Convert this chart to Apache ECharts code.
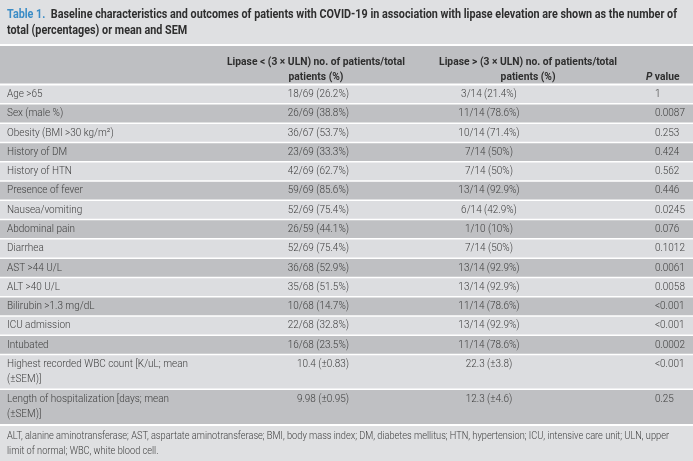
<!DOCTYPE html>
<html><head><meta charset="utf-8">
<script src="https://cdn.jsdelivr.net/npm/echarts@6/dist/echarts.min.js"></script>
<style>html,body{margin:0;padding:0;background:#dfe0e2}#c{width:693px;height:461px}</style>
</head><body><div id="c"></div>
<script>
// ---------- DATA ----------
const titlePrefix = 'Table 1.';
const titleLines = [
  'Baseline characteristics and outcomes of patients with COVID-19 in association with lipase elevation are shown as the number of',
  'total (percentages) or mean and SEM'
];
const headerCol2 = 'Lipase < (3 × ULN) no. of patients/total\npatients (%)';
const headerCol3 = 'Lipase > (3 × ULN) no. of patients/total\npatients (%)';
const headerCol4 = 'P value';
const characteristics = [
  'Age >65', 'Sex (male %)', 'Obesity (BMI >30 kg/m²)', 'History of DM', 'History of HTN',
  'Presence of fever', 'Nausea/vomiting', 'Abdominal pain', 'Diarrhea', 'AST >44 U/L',
  'ALT >40 U/L', 'Bilirubin >1.3 mg/dL', 'ICU admission', 'Intubated',
  'Highest recorded WBC count [K/uL; mean\n(±SEM)]',
  'Length of hospitalization [days; mean\n(±SEM)]'
];
const lipaseLow = [
  '18/69 (26.2%)', '26/69 (38.8%)', '36/67 (53.7%)', '23/69 (33.3%)', '42/69 (62.7%)',
  '59/69 (85.6%)', '52/69 (75.4%)', '26/59 (44.1%)', '52/69 (75.4%)', '36/68 (52.9%)',
  '35/68 (51.5%)', '10/68 (14.7%)', '22/68 (32.8%)', '16/68 (23.5%)',
  '10.4 (±0.83)', '9.98 (±0.95)'
];
const lipaseHigh = [
  '3/14 (21.4%)', '11/14 (78.6%)', '10/14 (71.4%)', '7/14 (50%)', '7/14 (50%)',
  '13/14 (92.9%)', '6/14 (42.9%)', '1/10 (10%)', '7/14 (50%)', '13/14 (92.9%)',
  '13/14 (92.9%)', '11/14 (78.6%)', '13/14 (92.9%)', '11/14 (78.6%)',
  '22.3 (±3.8)', '12.3 (±4.6)'
];
const pValues = [
  '1', '0.0087', '0.253', '0.424', '0.562', '0.446', '0.0245', '0.076', '0.1012',
  '0.0061', '0.0058', '<0.001', '<0.001', '0.0002', '<0.001', '0.25'
];
const footnote = [
  'ALT, alanine aminotransferase; AST, aspartate aminotransferase; BMI, body mass index; DM, diabetes mellitus; HTN, hypertension; ICU, intensive care unit; ULN, upper',
  'limit of normal; WBC, white blood cell.'
];

// ---------- STYLE ----------
const FONT = 'Roboto, "Liberation Sans", sans-serif';
const LIGHT_BG = '#dcdde0', DARK_BG = '#bfc0c3', HEADER_BG = '#bebfc2', SEP = '#ffffff';
const BODY_COLOR = '#3e3e3e', HEAD_COLOR = '#2e2e2e', BLUE = '#3a8cc6';
const HEADER_UNITS = 2, UNITS_BY_LINES = {1: 1, 2: 1.8};
const COL = {label: 0.0101, low: 0.5036, high: 0.7056, p: 0.945, hLow: 0.456, hHigh: 0.762, hP: 0.932};
const LINE_H = 15;

const mctx = document.createElement('canvas').getContext('2d');
function measure(text, weight, size) { mctx.font = weight + ' ' + size + 'px ' + FONT; return mctx.measureText(text).width; }
const bodyScale = 181 / measure('Highest recorded WBC count [K/uL; mean', 300, 11);
const headScale = 178 / measure('Lipase > (3 × ULN) no. of patients/total', 'bold', 11);
const titleScale = 670 / measure(titlePrefix + '  ' + titleLines[0], 'bold', 12);
const footScale = 662 / measure(footnote[0], 300, 11);

// row layout in axis units
const rowsUnits = [HEADER_UNITS].concat(characteristics.map(c => UNITS_BY_LINES[c.split('\n').length]));
let acc = 0;
const rowData = rowsUnits.map((u, k) => { const s = acc; acc += u; return [k, s, acc]; });
const totalUnits = acc;

function txt(str, x, y, align, vAlign, weight, size, color, scale, rich) {
  return {
    type: 'text', x: x, y: y, scaleX: scale,
    style: {text: str, x: 0, y: 0, align: align, verticalAlign: vAlign, lineHeight: LINE_H,
      fontFamily: FONT, fontWeight: weight, fontSize: size, fill: color, rich: rich}
  };
}

function renderItem(params, api) {
  const i = api.value(0);
  const top = api.coord([0, api.value(1)])[1];
  const bot = api.coord([0, api.value(2)])[1];
  const x0 = api.coord([0, 0])[0], x1 = api.coord([1, 0])[0];
  const W = x1 - x0, X = f => x0 + f * W;
  const unitPx = api.size([0, 1])[1];
  const ch = [];
  const fill = i === 0 ? HEADER_BG : ((i - 1) % 2 === 0 ? LIGHT_BG : DARK_BG);
  ch.push({type: 'rect', shape: {x: x0, y: top, width: W, height: bot - top}, style: {fill: fill}});
  if (i === 0) {
    ch.push({type: 'rect', shape: {x: x0, y: top - 2, width: W, height: 2}, style: {fill: SEP}});
    const hw = 'bold', hs = 11;
    ch.push(txt(headerCol2, X(COL.hLow), bot, 'center', 'bottom', hw, hs, HEAD_COLOR, headScale));
    ch.push(txt(headerCol3, X(COL.hHigh), bot, 'center', 'bottom', hw, hs, HEAD_COLOR, headScale));
    ch.push(txt('{i|P} value', X(COL.hP), bot, 'left', 'bottom', hw, hs, HEAD_COLOR, headScale,
      {i: {fontStyle: 'italic', fontWeight: 'bold', fontSize: hs, fontFamily: FONT, fill: HEAD_COLOR}}));
  } else {
    const r = i - 1;
    const th = r === 0 ? 2 : 1.5;
    ch.push({type: 'rect', shape: {x: x0, y: top - th / 2, width: W, height: th}, style: {fill: SEP}});
    if (r === characteristics.length - 1) {
      ch.push({type: 'rect', shape: {x: x0, y: bot, width: W, height: 2}, style: {fill: SEP}});
    }
    const y = top + unitPx / 2 - LINE_H / 2;
    ch.push(txt(characteristics[r], X(COL.label), y, 'left', 'top', 300, 11, BODY_COLOR, bodyScale));
    ch.push(txt(lipaseLow[r], X(COL.low), y, 'right', 'top', 300, 11, BODY_COLOR, bodyScale));
    ch.push(txt(lipaseHigh[r], X(COL.high), y, 'center', 'top', 300, 11, BODY_COLOR, bodyScale));
    ch.push(txt(pValues[r], X(COL.p), y, 'left', 'top', 300, 11, BODY_COLOR, bodyScale));
  }
  return {type: 'group', children: ch};
}

const chart = echarts.init(document.getElementById('c'), null, {renderer: 'canvas', width: 693, height: 461});
chart.setOption({
  backgroundColor: '#dfe0e2',
  animation: false,
  grid: {left: 0, right: 0, top: 46, bottom: 37},
  xAxis: {type: 'value', min: 0, max: 1, show: false},
  yAxis: {type: 'value', min: 0, max: totalUnits, inverse: true, show: false},
  series: [{type: 'custom', renderItem: renderItem, data: rowData, encode: {x: -1, y: [1, 2]}, silent: true, clip: false}],
  graphic: [
    {type: 'text', x: 7, y: 15, scaleX: titleScale, style: {
      text: '{b|' + titlePrefix + '}  ' + titleLines[0], x: 0, y: 0, verticalAlign: 'middle',
      fontFamily: FONT, fontWeight: 'bold', fontSize: 12, fill: HEAD_COLOR,
      rich: {b: {fontFamily: FONT, fontWeight: 'bold', fontSize: 12, fill: BLUE}}}},
    {type: 'text', x: 7, y: 31, scaleX: titleScale, style: {
      text: titleLines[1], x: 0, y: 0, verticalAlign: 'middle',
      fontFamily: FONT, fontWeight: 'bold', fontSize: 12, fill: HEAD_COLOR}},
    {type: 'rect', shape: {x: 0, y: 44, width: 693, height: 2}, style: {fill: SEP}},
    {type: 'text', x: 7, y: 436, scaleX: footScale, style: {
      text: footnote[0], x: 0, y: 0, verticalAlign: 'middle',
      fontFamily: FONT, fontWeight: 300, fontSize: 11, fill: BODY_COLOR}},
    {type: 'text', x: 7, y: 451, scaleX: footScale, style: {
      text: footnote[1], x: 0, y: 0, verticalAlign: 'middle',
      fontFamily: FONT, fontWeight: 300, fontSize: 11, fill: BODY_COLOR}}
  ]
});
</script></body></html>
